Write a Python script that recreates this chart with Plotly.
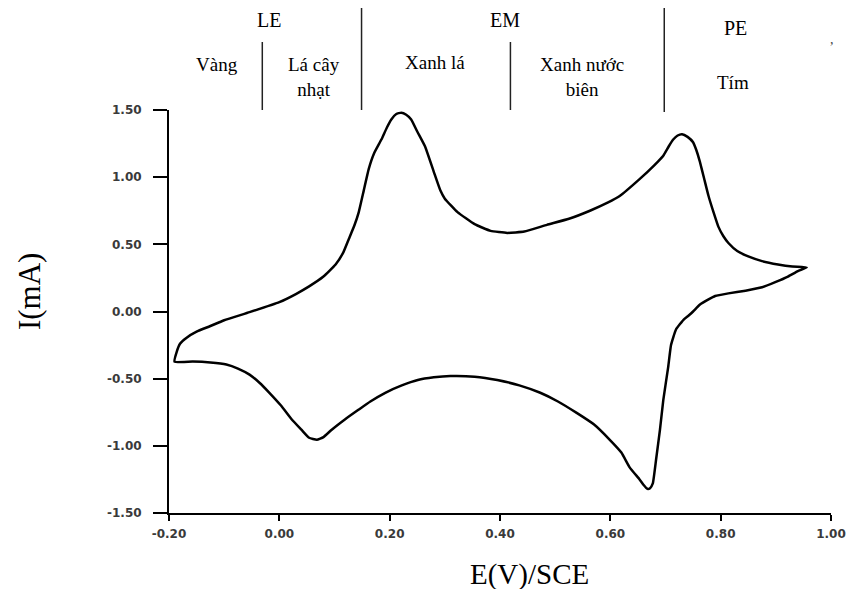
import plotly.graph_objects as go

# ---- data: cyclic voltammogram (potential E in V vs SCE, current I in mA) ----
E_forward = [-0.190, -0.186, -0.180, -0.168, -0.150, -0.126, -0.100, -0.054, 0.000, 0.030,
             0.054, 0.080, 0.102, 0.116, 0.126, 0.136, 0.144, 0.153, 0.162, 0.172,
             0.185, 0.195, 0.203, 0.212, 0.221, 0.230, 0.239, 0.250, 0.264, 0.280,
             0.292, 0.300, 0.323, 0.354, 0.383, 0.413, 0.444, 0.485, 0.525, 0.563,
             0.595, 0.617, 0.653, 0.680, 0.696, 0.706, 0.714, 0.722, 0.730, 0.740,
             0.750, 0.756, 0.762, 0.770, 0.778, 0.787, 0.796, 0.805, 0.814, 0.830,
             0.850, 0.875, 0.904, 0.930, 0.956]
I_forward = [-0.373, -0.300, -0.240, -0.195, -0.150, -0.110, -0.065, -0.005, 0.070, 0.130,
             0.187, 0.260, 0.350, 0.440, 0.540, 0.640, 0.740, 0.900, 1.060, 1.180,
             1.280, 1.370, 1.430, 1.470, 1.480, 1.465, 1.430, 1.340, 1.230, 1.040,
             0.900, 0.840, 0.740, 0.650, 0.600, 0.585, 0.595, 0.645, 0.690, 0.750,
             0.810, 0.860, 0.985, 1.090, 1.160, 1.230, 1.280, 1.310, 1.320, 1.300,
             1.260, 1.200, 1.120, 0.990, 0.860, 0.740, 0.630, 0.560, 0.510, 0.450,
             0.410, 0.375, 0.350, 0.335, 0.328]

E_reverse = [0.940, 0.922, 0.900, 0.875, 0.845, 0.814, 0.790, 0.778, 0.762, 0.750,
             0.742, 0.733, 0.719, 0.710, 0.705, 0.696, 0.690, 0.683, 0.677, 0.672,
             0.667, 0.660, 0.653, 0.635, 0.620, 0.599, 0.570, 0.539, 0.505, 0.473,
             0.435, 0.395, 0.354, 0.310, 0.280, 0.251, 0.222, 0.192, 0.165, 0.144,
             0.120, 0.095, 0.080, 0.068, 0.054, 0.040, 0.023, 0.003, -0.018, -0.036,
             -0.054, -0.075, -0.096, -0.125, -0.157, -0.190]
I_reverse = [0.300, 0.260, 0.220, 0.180, 0.155, 0.135, 0.115, 0.090, 0.050, 0.000,
             -0.030, -0.060, -0.134, -0.250, -0.410, -0.660, -0.880, -1.100, -1.280, -1.315,
             -1.320, -1.290, -1.250, -1.160, -1.050, -0.955, -0.840, -0.755, -0.670, -0.605,
             -0.550, -0.510, -0.485, -0.480, -0.490, -0.510, -0.550, -0.605, -0.670, -0.730,
             -0.800, -0.880, -0.935, -0.955, -0.940, -0.880, -0.806, -0.700, -0.605, -0.530,
             -0.470, -0.425, -0.395, -0.380, -0.373, -0.373]

x_tick_vals = [-0.2, 0.0, 0.2, 0.4, 0.6, 0.8, 1.0]
x_tick_text = ["-0.20", "0.00", "0.20", "0.40", "0.60", "0.80", "1.00"]
y_tick_vals = [-1.5, -1.0, -0.5, 0.0, 0.5, 1.0, 1.5]
y_tick_text = ["-1.50", "-1.00", "-0.50", "0.00", "0.50", "1.00", "1.50"]

# header labels (colour regions)
group_labels = ["LE", "EM", "PE"]
color_labels = ["Vàng", "Lá cây<br>nhạt", "Xanh lá", "Xanh nước<br>biên", "Tím"]

# ---- layout geometry (page pixels; body margin is reset to 0 below) ----
W, H = 858, 589
PLOT_X0, PLOT_X1 = 169, 836
PLOT_Y0, PLOT_Y1 = 110, 513
ML, MR, MT, MB = PLOT_X0, W - PLOT_X1, PLOT_Y0, H - PLOT_Y1
PW, PH = PLOT_X1 - PLOT_X0, PLOT_Y1 - PLOT_Y0


def px(x):
    return (x - PLOT_X0) / PW


def py(y):
    return (PLOT_Y1 - y) / PH


E_all = E_forward + E_reverse
I_all = I_forward + I_reverse

fig = go.Figure()
fig.add_trace(go.Scatter(
    x=E_all, y=I_all, mode="lines",
    line=dict(color="black", width=2.5, shape="spline", smoothing=0.4),
    showlegend=False, hoverinfo="skip",
))

tickfont = dict(family="DejaVu Sans", size=12, color="#3a3a3a", weight="bold")
fig.update_xaxes(
    range=[-0.2, 1.0], tickvals=x_tick_vals, ticktext=x_tick_text,
    showgrid=False, zeroline=False, showline=True, linecolor="black", linewidth=2,
    ticks="outside", ticklen=6, tickwidth=2, tickcolor="black",
    tickfont=tickfont, ticklabelstandoff=3,
)
fig.update_yaxes(
    range=[-1.5, 1.5], tickvals=y_tick_vals, ticktext=y_tick_text,
    showgrid=False, zeroline=False, showline=True, linecolor="black", linewidth=2,
    ticks="outside", ticklen=14, tickwidth=2, tickcolor="black",
    tickfont=tickfont, ticklabelstandoff=9,
)

serif = "Liberation Serif"
ann = []


def label(text, x, y, size, color="black", angle=0):
    ann.append(dict(text=text, x=px(x), y=py(y), xref="paper", yref="paper",
                    xanchor="center", yanchor="middle", showarrow=False,
                    align="center", textangle=angle,
                    font=dict(family=serif, size=size, color=color)))


for text, (x, y) in zip(group_labels, [(270, 20), (508, 20), (740, 28)]):
    label(text, x, y, 20)
for text, (x, y) in zip(color_labels, [(217, 65), (315, 77), (437, 63), (585, 77), (737, 82)]):
    label(text, x, y, 19)
label(",", 837, 40, 14, color="#444")
label("E(V)/SCE", 532, 574, 29)
label("I(mA)", 28, 292, 31, angle=-90)

shapes = []
for x, y0, y1 in [(263, 42, 110), (363, 8, 110), (513, 42, 110), (668, 8, 112)]:
    shapes.append(dict(type="line", xref="paper", yref="paper",
                       x0=px(x), x1=px(x), y0=py(y0), y1=py(y1),
                       line=dict(color="#222", width=1.5)))

fig.update_layout(
    width=W, height=H, margin=dict(l=ML, r=MR, t=MT, b=MB),
    paper_bgcolor="white", plot_bgcolor="white",
    annotations=ann, shapes=shapes, showlegend=False,
)

fig.write_html("out.html", config={"displayModeBar": False},
               post_script="document.body.style.margin='0';")
